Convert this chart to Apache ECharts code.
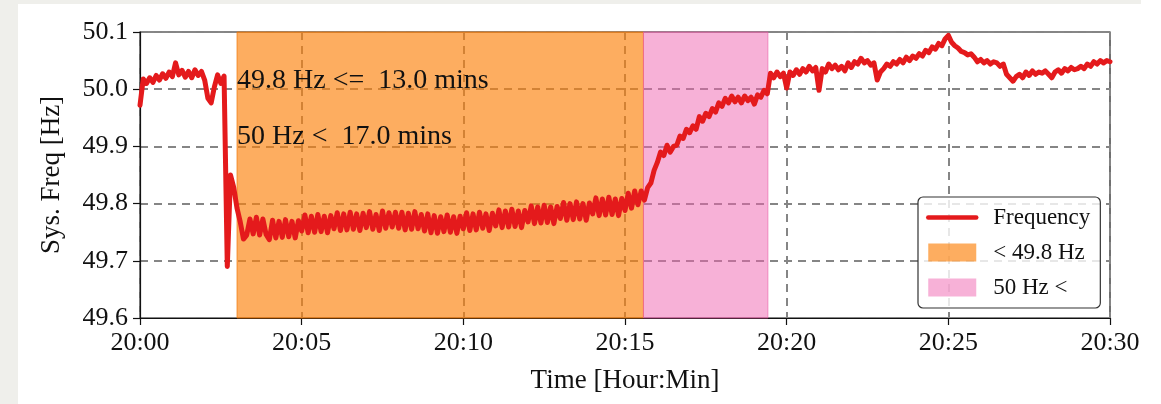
<!DOCTYPE html>
<html>
<head>
<meta charset="utf-8">
<title>Sys. Freq</title>
<script src="https://cdn.jsdelivr.net/npm/echarts@6/dist/echarts.min.js"></script>
<style>
  html, body { margin: 0; padding: 0; background: #fff; }
  #chart { width: 1161px; height: 404px; }
</style>
</head>
<body>
<div id="chart"></div>
<script>
// time axis: minutes after 20:00
var xTicks = ['20:00', '20:05', '20:10', '20:15', '20:20', '20:25', '20:30'];
var yTicks = ['49.6', '49.7', '49.8', '49.9', '50.0', '50.1'];
var stepMin = 0.1; // one reading every 6 s

// frequency readings [Hz], one row per minute
var freq = [
  49.972, 50.018, 50.010, 50.020, 50.012, 50.024, 50.016, 50.027, 50.019, 50.030,
  50.022, 50.046, 50.025, 50.033, 50.021, 50.031, 50.020, 50.034, 50.024, 50.031,
  50.016, 49.984, 49.976, 50.004, 50.025, 50.010, 50.023, 49.690, 49.850, 49.828,
  49.792, 49.768, 49.738, 49.745, 49.773, 49.747, 49.776, 49.745, 49.773, 49.746,
  49.737, 49.771, 49.740, 49.769, 49.741, 49.772, 49.742, 49.769, 49.740, 49.770,
  49.752, 49.780, 49.749, 49.778, 49.750, 49.781, 49.751, 49.778, 49.749, 49.779,
  49.756, 49.784, 49.753, 49.782, 49.754, 49.785, 49.755, 49.782, 49.753, 49.783,
  49.758, 49.786, 49.755, 49.781, 49.753, 49.787, 49.757, 49.784, 49.759, 49.785,
  49.757, 49.785, 49.754, 49.783, 49.755, 49.786, 49.756, 49.781, 49.752, 49.782,
  49.749, 49.779, 49.748, 49.777, 49.751, 49.780, 49.750, 49.777, 49.748, 49.778,
  49.756, 49.784, 49.753, 49.782, 49.754, 49.785, 49.757, 49.782, 49.753, 49.783,
  49.761, 49.789, 49.758, 49.787, 49.759, 49.790, 49.760, 49.787, 49.758, 49.788,
  49.768, 49.796, 49.765, 49.794, 49.766, 49.797, 49.767, 49.794, 49.765, 49.795,
  49.774, 49.802, 49.771, 49.800, 49.772, 49.803, 49.773, 49.800, 49.771, 49.801,
  49.782, 49.810, 49.779, 49.808, 49.780, 49.811, 49.781, 49.808, 49.779, 49.809,
  49.788, 49.818, 49.792, 49.822, 49.798, 49.822, 49.806, 49.828, 49.836, 49.858,
  49.872, 49.890, 49.884, 49.902, 49.890, 49.900, 49.902, 49.918, 49.914, 49.930,
  49.924, 49.936, 49.930, 49.952, 49.944, 49.958, 49.952, 49.966, 49.960, 49.976,
  49.970, 49.984, 49.976, 49.988, 49.978, 49.986, 49.976, 49.988, 49.980, 49.986,
  49.974, 49.990, 49.986, 49.998, 49.992, 50.028, 50.020, 50.030, 50.022, 50.028,
  50.002, 50.030, 50.024, 50.034, 50.026, 50.036, 50.030, 50.040, 50.032, 50.038,
  49.998, 50.036, 50.030, 50.044, 50.036, 50.042, 50.034, 50.040, 50.032, 50.046,
  50.038, 50.048, 50.044, 50.054, 50.046, 50.050, 50.042, 50.046, 50.016, 50.030,
  50.036, 50.044, 50.040, 50.048, 50.044, 50.052, 50.046, 50.056, 50.050, 50.058,
  50.054, 50.062, 50.058, 50.068, 50.064, 50.074, 50.070, 50.080, 50.076, 50.088,
  50.094, 50.082, 50.076, 50.072, 50.066, 50.064, 50.060, 50.062, 50.056, 50.048,
  50.052, 50.046, 50.050, 50.044, 50.048, 50.046, 50.040, 50.044, 50.026, 50.020,
  50.014, 50.022, 50.026, 50.020, 50.030, 50.024, 50.032, 50.026, 50.030, 50.028,
  50.032, 50.026, 50.020, 50.030, 50.034, 50.028, 50.036, 50.032, 50.038, 50.034,
  50.036, 50.040, 50.036, 50.044, 50.040, 50.048, 50.044, 50.050, 50.046, 50.050,
  50.048
];

// shaded spans [start min, end min]
var spanLow = [3.0, 15.57];   // < 49.8 Hz
var spanHigh = [15.57, 19.42]; // 50 Hz <

var noteLow = '49.8 Hz <=  13.0 mins';
var noteHigh = '50 Hz <  17.0 mins';

var serif = '"Liberation Serif", "Times New Roman", serif';

var pts = freq.map(function (v, i) { return [+(i * stepMin).toFixed(1), v]; });

var chart = echarts.init(document.getElementById('chart'));
chart.setOption({
  backgroundColor: '#fff',
  animation: false,
  textStyle: { fontFamily: serif },
  grid: { left: 140, right: 51, top: 32, bottom: 86, show: true, borderColor: '#111', borderWidth: 1.2, backgroundColor: 'transparent' },
  xAxis: {
    type: 'value', min: 0, max: 30, interval: 5,
    name: 'Time [Hour:Min]', nameLocation: 'middle', nameGap: 49,
    nameTextStyle: { fontFamily: serif, fontSize: 27, color: '#111' },
    axisLine: { lineStyle: { color: '#111', width: 1.2 } },
    axisTick: { length: 7, lineStyle: { color: '#111', width: 1.2 } },
    axisLabel: { fontFamily: serif, fontSize: 26, color: '#111', margin: 12,
      formatter: function (v) { return xTicks[Math.round(v / 5)]; } },
    splitLine: { show: true, lineStyle: { color: '#858585', width: 2, type: [8, 6] } }
  },
  yAxis: {
    type: 'value', min: 49.6, max: 50.1, interval: 0.1,
    name: 'Sys. Freq [Hz]', nameLocation: 'middle', nameGap: 75, nameRotate: 90,
    nameTextStyle: { fontFamily: serif, fontSize: 27, color: '#111' },
    axisLine: { show: true, lineStyle: { color: '#111', width: 1.2 } },
    axisTick: { show: true, length: 7, lineStyle: { color: '#111', width: 1.2 } },
    axisLabel: { fontFamily: serif, fontSize: 26, color: '#111', margin: 12,
      formatter: function (v) { return yTicks[Math.round((v - 49.6) * 10)]; } },
    splitLine: { show: true, lineStyle: { color: '#858585', width: 2, type: [8, 6] } }
  },
  legend: {
    orient: 'vertical', left: 918, top: 197,
    backgroundColor: 'rgba(255,255,255,0.8)', borderColor: '#333', borderWidth: 1.2, borderRadius: 5,
    padding: [9, 10, 9, 8], itemGap: 12, itemWidth: 48, itemHeight: 18,
    textStyle: { fontFamily: serif, fontSize: 23, color: '#111', padding: [0, 0, 0, 12] },
    data: [
      { name: 'Frequency', itemStyle: { opacity: 0 }, lineStyle: { width: 4.5, color: '#e41a1c' } },
      { name: '< 49.8 Hz', icon: 'rect' },
      { name: '50 Hz <', icon: 'rect' }
    ]
  },
  series: [
    {
      name: '< 49.8 Hz', type: 'bar', data: [],
      itemStyle: { color: 'rgba(252,129,10,0.65)' },
      markArea: { silent: true, itemStyle: { color: 'rgba(252,129,10,0.65)', borderColor: 'rgba(240,120,10,0.7)', borderWidth: 1 },
        data: [[{ xAxis: spanLow[0] }, { xAxis: spanLow[1] }]] }
    },
    {
      name: '50 Hz <', type: 'bar', data: [],
      itemStyle: { color: 'rgba(240,100,175,0.5)' },
      markArea: { silent: true, itemStyle: { color: 'rgba(240,100,175,0.5)', borderColor: 'rgba(235,90,165,0.6)', borderWidth: 1 },
        data: [[{ xAxis: spanHigh[0] }, { xAxis: spanHigh[1] }]] }
    },
    {
      name: 'Frequency', type: 'line', data: pts, z: 5,
      symbol: 'none', showSymbol: false,
      itemStyle: { color: '#e41a1c' },
      lineStyle: { color: '#e41a1c', width: 5, join: 'round', cap: 'round' }
    }
  ],
  graphic: [
    { type: 'rect', silent: true, shape: { x: 0, y: 0, width: 18, height: 404 }, style: { fill: '#efefeb' } },
    { type: 'rect', silent: true, shape: { x: 0, y: 0, width: 1141, height: 4 }, style: { fill: '#efefeb' } },
    { type: 'text', left: 237, top: 67, z: 10, style: { text: noteLow, font: '28px ' + serif, fill: '#111' } },
    { type: 'text', left: 237, top: 123, z: 10, style: { text: noteHigh, font: '28px ' + serif, fill: '#111' } }
  ]
});
</script>
</body>
</html>
